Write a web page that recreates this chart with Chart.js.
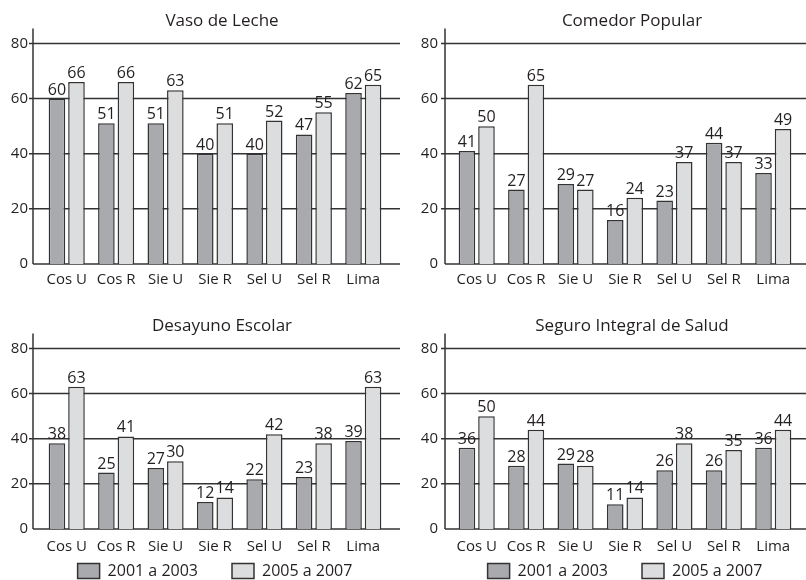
<!DOCTYPE html>
<html>
<head>
<meta charset="utf-8">
<script src="https://cdn.jsdelivr.net/npm/chart.js@4.4.0/dist/chart.umd.min.js"></script>
<style>
  body { margin: 0; background: #fff; overflow: hidden; width: 806px; height: 580px; position: relative; }
  .panel { position: absolute; overflow: hidden; }
</style>
</head>
<body>
<div class="panel" style="left:0;top:0;width:403px;height:290px"><canvas id="vaso" width="444" height="290"></canvas></div>
<div class="panel" style="left:410px;top:0;width:396px;height:290px"><canvas id="comedor" width="444" height="290"></canvas></div>
<div class="panel" style="left:0;top:290px;width:403px;height:290px"><canvas id="desayuno" width="444" height="300"></canvas></div>
<div class="panel" style="left:410px;top:290px;width:396px;height:290px"><canvas id="seguro" width="444" height="300"></canvas></div>
<script>
const categories = ['Cos U', 'Cos R', 'Sie U', 'Sie R', 'Sel U', 'Sel R', 'Lima'];
const seriesNames = ['2001 a 2003', '2005 a 2007'];
const yMax = 80;
const yStep = 20;

const vasoOld = [60, 51, 51, 40, 40, 47, 62];
const vasoNew = [66, 66, 63, 51, 52, 55, 65];
const comedorOld = [41, 27, 29, 16, 23, 44, 33];
const comedorNew = [50, 65, 27, 24, 37, 37, 49];
const desayunoOld = [38, 25, 27, 12, 22, 23, 39];
const desayunoNew = [63, 41, 30, 14, 42, 38, 63];
const seguroOld = [36, 28, 29, 11, 26, 26, 36];
const seguroNew = [50, 44, 28, 14, 38, 35, 44];

const ink = '#231f20';
const lineColor = '#333333';
const darkFill = '#a9aaae';
const lightFill = '#dcddde';

Chart.defaults.font.family = "'Open Sans', 'Noto Sans', sans-serif";
Chart.defaults.color = ink;

// gridlines + y axis line, wider than the chart area like the original
const axisLines = {
  id: 'axisLines',
  beforeDatasetsDraw(chart, args, opts) {
    const { ctx, chartArea } = chart;
    const y = chart.scales.y;
    const axisX = chartArea.left - opts.gap;
    ctx.save();
    ctx.strokeStyle = lineColor;
    ctx.lineWidth = 1.5;
    y.ticks.forEach(t => {
      const py = y.getPixelForValue(t.value);
      ctx.beginPath();
      ctx.moveTo(axisX - (t.value === 0 ? 0 : 4), py);
      ctx.lineTo(chartArea.right + 12, py);
      ctx.stroke();
    });
    ctx.beginPath();
    ctx.moveTo(axisX, y.getPixelForValue(0));
    ctx.lineTo(axisX, y.getPixelForValue(yMax) - 15);
    ctx.stroke();
    ctx.restore();
  }
};

const valueLabels = {
  id: 'valueLabels',
  afterDatasetsDraw(chart) {
    const { ctx } = chart;
    ctx.save();
    ctx.font = "16px 'Open Sans', 'Noto Sans', sans-serif";
    ctx.fillStyle = ink;
    ctx.textAlign = 'center';
    ctx.textBaseline = 'alphabetic';
    chart.data.datasets.forEach((ds, i) => {
      chart.getDatasetMeta(i).data.forEach((bar, j) => {
        ctx.fillText(String(ds.data[j]), bar.x, bar.y - 4);
      });
    });
    ctx.restore();
  }
};

function drawPanel(canvasID, title, oldData, newData, withLegend, gap) {
  new Chart(document.getElementById(canvasID), {
    type: 'bar',
    data: {
      labels: categories,
      datasets: [
        { label: seriesNames[0], data: oldData, backgroundColor: darkFill, borderColor: lineColor, borderWidth: 1.5 },
        { label: seriesNames[1], data: newData, backgroundColor: lightFill, borderColor: lineColor, borderWidth: 1.5 }
      ]
    },
    options: {
      responsive: false,
      animation: false,
      categoryPercentage: 0.79,
      barPercentage: 0.85,
      layout: { padding: { left: 0, right: 0, top: 0, bottom: withLegend ? 1 : 0 } },
      scales: {
        x: {
          grid: { display: false, drawTicks: false },
          border: { display: false },
          // mirrored labels are not clipped to the (squeezed) axis box
          ticks: { font: { size: 15 }, color: ink, mirror: true, padding: withLegend ? -27 : -25 },
          afterFit: s => { s.height = withLegend ? 0 : 26; }
        },
        y: {
          min: 0,
          max: yMax,
          grid: { display: false, drawTicks: false },
          border: { display: false },
          ticks: { stepSize: yStep, font: { size: 15 }, color: ink, padding: 14 },
          afterFit: s => { s.width = 42; }
        },
        // empty box on the right so the titles sit where they do in the print
        spacer: {
          type: 'linear',
          position: 'right',
          grid: { display: false },
          border: { display: false },
          ticks: { display: false },
          afterFit: s => { s.width = 56; }
        }
      },
      plugins: {
        title: {
          display: true,
          text: title,
          color: ink,
          font: { size: 17, weight: 'normal' },
          padding: withLegend ? { top: 26, bottom: 12 } : { top: 11, bottom: 12 }
        },
        legend: {
          display: withLegend,
          position: 'bottom',
          fullSize: false,
          labels: { boxWidth: 22, boxHeight: 15, padding: 34, font: { size: 16 }, color: ink }
        },
        tooltip: { enabled: false },
        axisLines: { gap: gap }
      }
    },
    plugins: [axisLines, valueLabels]
  });
}

drawPanel('vaso', 'Vaso de Leche', vasoOld, vasoNew, false, 9);
drawPanel('comedor', 'Comedor Popular', comedorOld, comedorNew, false, 7);
drawPanel('desayuno', 'Desayuno Escolar', desayunoOld, desayunoNew, true, 9);
drawPanel('seguro', 'Seguro Integral de Salud', seguroOld, seguroNew, true, 7);
</script>
</body>
</html>
